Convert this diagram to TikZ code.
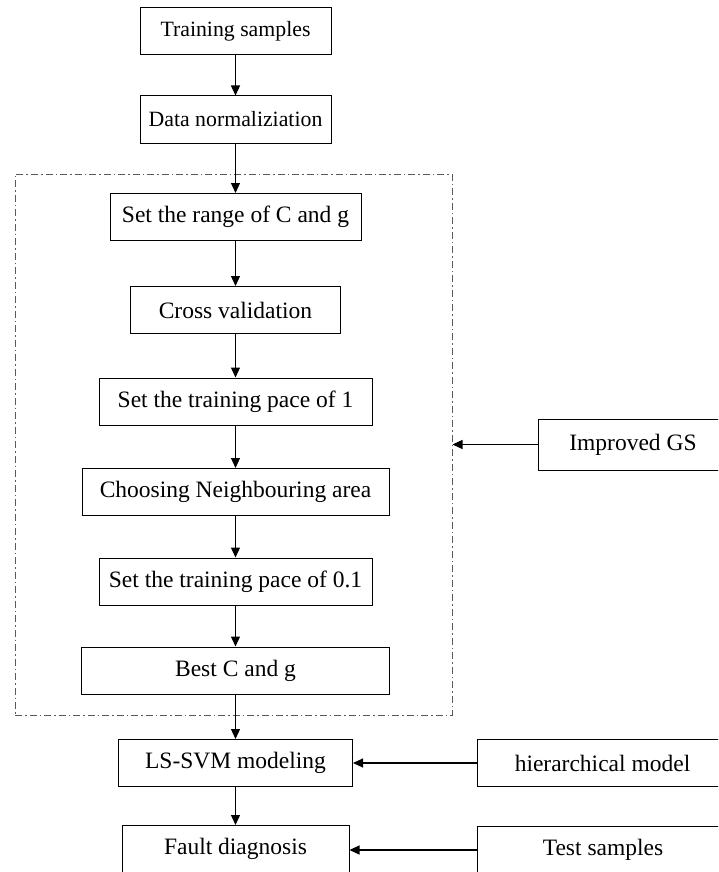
\documentclass[tikz,border=0pt]{standalone}
\usepackage{fontspec}
\setmainfont{Liberation Serif}
\usetikzlibrary{positioning,arrows.meta}

\begin{document}
\begin{tikzpicture}[
  x=1pt, y=-1pt,
  stepbox/.style={draw=black, line width=1pt, minimum height=47pt, inner sep=0pt,
    font=\fontsize{23.5}{28}\selectfont},
  topbox/.style={stepbox, font=\fontsize{21.8}{26}\selectfont},
  flow/.style={line width=1.2pt, -{Triangle[length=10pt,width=9pt]}},
  gsframe/.style={draw=black!65, line width=1pt, dash pattern=on 7pt off 3pt on 1.5pt off 3pt,
    minimum width=437pt, minimum height=541pt, inner sep=0pt}
]
\useasboundingbox (0,0) rectangle (718,872);
\clip (0,0) rectangle (718,872);

% main column
\node[topbox, minimum width=191pt] (train) at (235.5,31.5) {Training samples};
\node[topbox, minimum width=191pt] (norm) at (235.5,119.5) {Data normaliziation};
\node[gsframe] (gsarea) at (233.5,444.5) {};
\node[stepbox, minimum width=251pt] (range) at (235.5,217) {Set the range of C and g};
\node[stepbox, minimum width=210pt] (cross) at (235.5,310) {Cross validation};
\node[stepbox, minimum width=273pt] (pace1) at (235.5,401.5) {Set the training pace of 1};
\node[stepbox, minimum width=307pt] (neigh) at (235.5,492) {Choosing Neighbouring area};
\node[stepbox, minimum width=273pt] (pace01) at (235.5,581.5) {Set the training pace of 0.1};
\node[stepbox, minimum width=308pt] (best) at (235.5,670.5) {Best C and g};
\node[stepbox, minimum width=234pt] (lssvm) at (235.5,763) {LS-SVM modeling};
\node[stepbox, minimum width=227pt] (fault) at (235.5,849) {Fault diagnosis};

% side inputs
\node[stepbox, minimum width=190pt, minimum height=51pt] (igs) at (633,444.5) {Improved GS};
\node[stepbox, minimum width=251pt] (hier) at (602.5,763) {hierarchical model};
\node[stepbox, minimum width=252pt] (test) at (603,850) {Test samples};

\draw[flow] (train) -- (norm);
\draw[flow] (norm) -- (range);
\draw[flow] (range) -- (cross);
\draw[flow] (cross) -- (pace1);
\draw[flow] (pace1) -- (neigh);
\draw[flow] (neigh) -- (pace01);
\draw[flow] (pace01) -- (best);
\draw[flow] (best) -- (lssvm);
\draw[flow] (lssvm) -- (fault);

\draw[flow] (igs) -- (gsarea.east |- igs);
\draw[flow] (hier) -- (lssvm);
\draw[flow] (test.west) -- (fault.east |- test.west);
\end{tikzpicture}
\end{document}
